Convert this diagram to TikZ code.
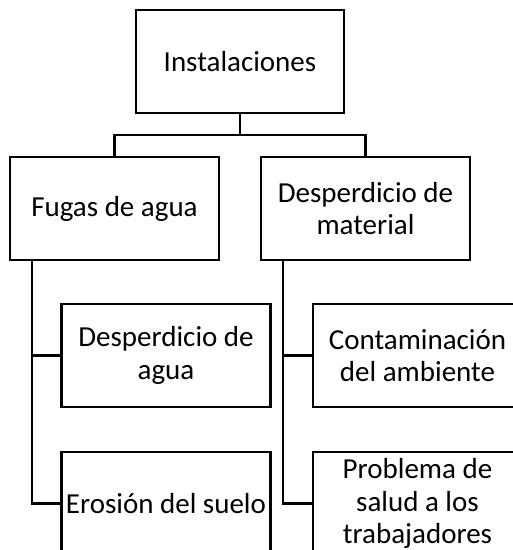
\documentclass[tikz,border=0pt]{standalone}
\usepackage{fontspec}
\setmainfont{Carlito}
\begin{document}
\begin{tikzpicture}[x=1pt,y=-1pt,
  box/.style={draw,line width=2.6pt,minimum width=209pt,minimum height=103pt,inner sep=2pt,align=center,
    font=\fontsize{29}{32.5}\selectfont},
  conn/.style={line width=2.6pt}]
\useasboundingbox (0,0) rectangle (513,550);
\clip (0,0) rectangle (513,550);
\node[box,minimum width=208pt] (top) at (240,61.5) {Instalaciones};
\node[box] (fugas) at (114.5,208.5) {Fugas de agua};
\node[box] (desmat) at (365.5,208.5) {Desperdicio de\\material};
\node[box] (desagua) at (166,355.5) {Desperdicio de\\agua};
\node[box] (erosion) at (166,503.5) {Erosión del suelo};
\node[box] (contam) at (417.5,355.5) {Contaminación\\del ambiente};
\node[box] (problema) at (417.5,503.5) {Problema de\\salud a los\\trabajadores};
\coordinate (j) at (240,135);
\coordinate (lx) at (32,0);
\coordinate (rx) at (283,0);
\draw[conn] (top.south) -- (j);
\draw[conn] (fugas.north) |- (j) -| (desmat.north);
\draw[conn] (fugas.south -| lx) |- (erosion.west);
\draw[conn] (lx |- desagua.west) -- (desagua.west);
\draw[conn] (desmat.south -| rx) |- (problema.west);
\draw[conn] (rx |- contam.west) -- (contam.west);
\end{tikzpicture}
\end{document}
